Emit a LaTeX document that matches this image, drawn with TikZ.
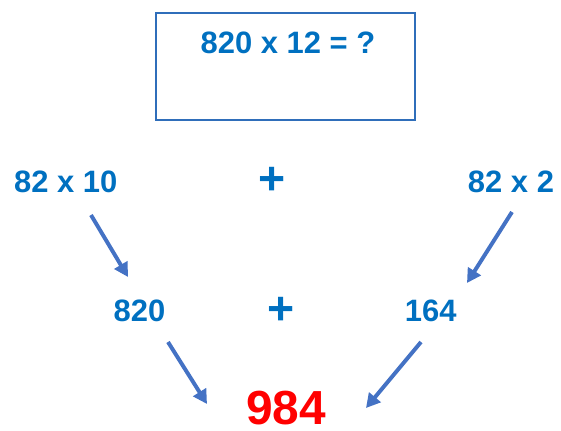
\documentclass[tikz,border=0pt]{standalone}
\usepackage{fontspec}
\setmainfont{Liberation Sans}
\usepackage{tikz}
\usetikzlibrary{arrows.meta}
\definecolor{numblue}{RGB}{0, 112, 192}
\definecolor{boxblue}{RGB}{47, 110, 186}
\definecolor{arrowblue}{RGB}{68, 114, 196}
\definecolor{resultred}{RGB}{255, 0, 0}
\tikzset{
	numtext/.style={inner sep=0pt, text=numblue, font=\fontsize{22}{26}\selectfont\bfseries},
	plustext/.style={inner sep=0pt, text=numblue, font=\fontsize{33}{38}\selectfont\bfseries},
	sumtext/.style={inner sep=0pt, text=resultred, font=\fontsize{34}{38}\selectfont\bfseries},
	steparrow/.style={draw=arrowblue, line width=2.8pt, -{Triangle[length=10pt,width=10.5pt]}}
}

\begin{document}
\begin{tikzpicture}[x=0.025cm, y=-0.025cm]
		\useasboundingbox (0,0) rectangle (561,430);

		% question box
		\draw[boxblue, line width=1.4pt] (156,13) rectangle (415,120);
		\node[numtext] (question) at (288,42.5) {820 x 12 = ?};

		% split
		\node[numtext] (tens) at (65.7,181.7) {82 x 10};
		\node[plustext] (plusA) at (271.7,181) {+};
		\node[numtext] (units) at (511,181.7) {82 x 2};

		% partial products
		\node[numtext] (partA) at (139.5,311) {820};
		\node[plustext] (plusB) at (281.5,310.5) {+};
		\node[numtext] (partB) at (430.8,310.8) {164};

		% result
		\node[sumtext] (result) at (286,408) {984};

		% arrow ends
		\coordinate (tensEnd) at (91,215);
		\coordinate (partAIn) at (128,277);
		\coordinate (unitsEnd) at (512,212);
		\coordinate (partBIn) at (467,283);
		\coordinate (partAEnd) at (168,342);
		\coordinate (resultL) at (207,404);
		\coordinate (partBEnd) at (421,342);
		\coordinate (resultR) at (366,408);

		\draw[steparrow] (tensEnd) -- (partAIn);
		\draw[steparrow] (unitsEnd) -- (partBIn);
		\draw[steparrow] (partAEnd) -- (resultL);
		\draw[steparrow] (partBEnd) -- (resultR);
	\end{tikzpicture}
\end{document}
